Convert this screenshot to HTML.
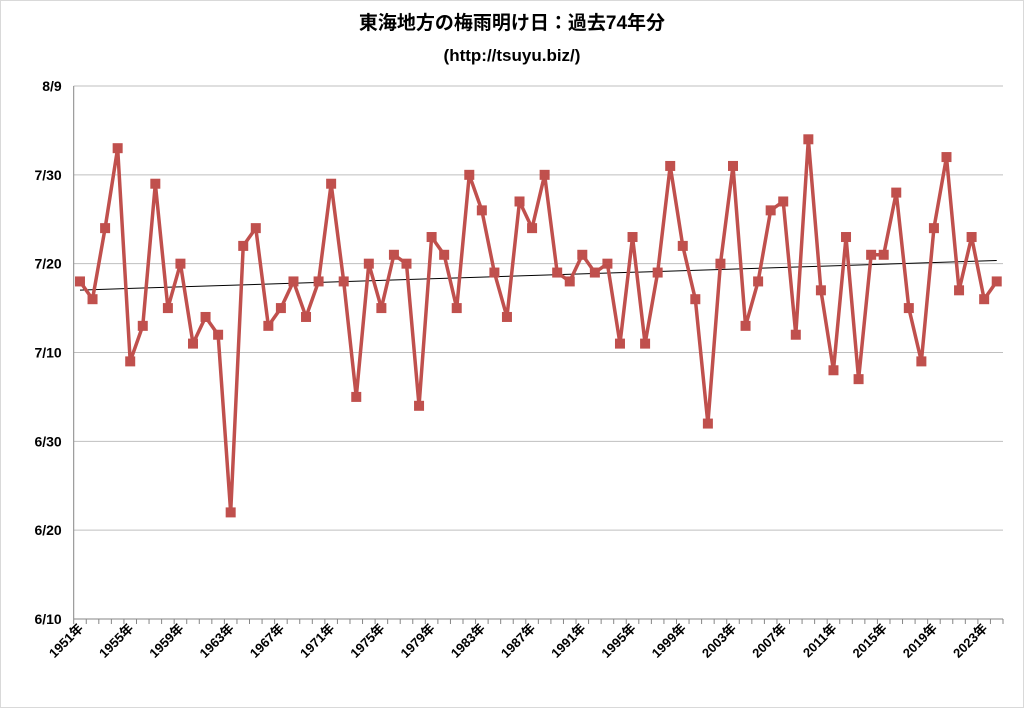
<!DOCTYPE html>
<html><head><meta charset="utf-8"><style>
body{margin:0;background:#fff;width:1024px;height:708px;overflow:hidden}
svg{font-family:"Liberation Sans","Noto Sans CJK JP",sans-serif}
</style></head><body>
<svg id="c" width="1024" height="708">
<rect x="0.5" y="0.5" width="1023" height="707" fill="#fff" stroke="#d9d9d9"/>
<text x="512" y="29" text-anchor="middle" font-size="19" font-weight="bold">東海地方の梅雨明け日：過去74年分</text>
<text x="512" y="61" text-anchor="middle" font-size="17" font-weight="bold">(http://tsuyu.biz/)</text>
<g id="grid"></g><g id="axes"></g><g id="trend"></g><g id="series"></g>
</svg>
<script>
const startYear = 1951;
const endDates = ["7/18","7/16","7/24","8/2","7/9","7/13","7/29","7/15","7/20","7/11","7/14","7/12","6/22","7/22","7/24","7/13","7/15","7/18","7/14","7/18","7/29","7/18","7/5","7/20","7/15","7/21","7/20","7/4","7/23","7/21","7/15","7/30","7/26","7/19","7/14","7/27","7/24","7/30","7/19","7/18","7/21","7/19","7/20","7/11","7/23","7/11","7/19","7/31","7/22","7/16","7/2","7/20","7/31","7/13","7/18","7/26","7/27","7/12","8/3","7/17","7/8","7/23","7/7","7/21","7/21","7/28","7/15","7/9","7/24","8/1","7/17","7/23","7/16","7/18"];
const yTickLabels = ["6/10","6/20","6/30","7/10","7/20","7/30","8/9"];
const NS="http://www.w3.org/2000/svg";
const L=73.7,R=1003,T=86,B=619;
function dayNum(s){const [m,d]=s.split("/").map(Number);const base={6:0,7:30,8:61};return base[m]+d-10;}
const yMin=0,yMax=60;
function yPos(v){return B-(v-yMin)/(yMax-yMin)*(B-T);}
const n=endDates.length,cw=(R-L)/n;
function xPos(i){return L+cw*(i+0.5);}
function mk(tag,attrs,parent){const e=document.createElementNS(NS,tag);for(const k in attrs)e.setAttribute(k,attrs[k]);document.getElementById(parent).appendChild(e);return e;}
yTickLabels.forEach((lab,i)=>{const y=yPos(dayNum(lab));
 const g=mk("line",{x1:L,x2:R,y1:y,y2:y,stroke:i==0?"#868686":"#bfbfbf","stroke-width":1},"grid");
 
 
 const t=mk("text",{x:L-12,y:y+5,"text-anchor":"end","font-size":14,"font-weight":"bold"},"axes");t.textContent=lab;
 
 
});
const ax=mk("line",{x1:L,x2:L,y1:T,y2:B,stroke:"#868686"},"axes");


for(let i=0;i<=n;i++){const x=L+cw*i;const tk=mk("line",{x1:x,x2:x,y1:B,y2:B+5,stroke:"#868686"},"axes");
 
 }
for(let i=0;i<n;i+=4){const x=xPos(i);const t=mk("text",{x:x+4,y:B+10,"text-anchor":"end","font-size":13,"font-weight":"bold",transform:`rotate(-45 ${x+4} ${B+10})`},"axes");t.textContent=(startYear+i)+"年";
 
 }
const vals=endDates.map(dayNum);
let sx=0,sy=0,sxx=0,sxy=0;vals.forEach((v,i)=>{sx+=i;sy+=v;sxx+=i*i;sxy+=i*v;});
const slope=(n*sxy-sx*sy)/(n*sxx-sx*sx),icpt=(sy-slope*sx)/n;
const tr=mk("line",{x1:xPos(0),y1:yPos(icpt),x2:xPos(n-1),y2:yPos(icpt+slope*(n-1)),stroke:"#000","stroke-width":1},"trend");


const pl=mk("polyline",{points:vals.map((v,i)=>xPos(i)+","+yPos(v)).join(" "),fill:"none",stroke:"#c0504d","stroke-width":3.5,"stroke-linejoin":"round"},"series");


vals.forEach((v,i)=>{const r=mk("rect",{x:xPos(i)-5,y:yPos(v)-5,width:10,height:10,fill:"#c0504d"},"series");
 
 });
</script>
</body></html>
